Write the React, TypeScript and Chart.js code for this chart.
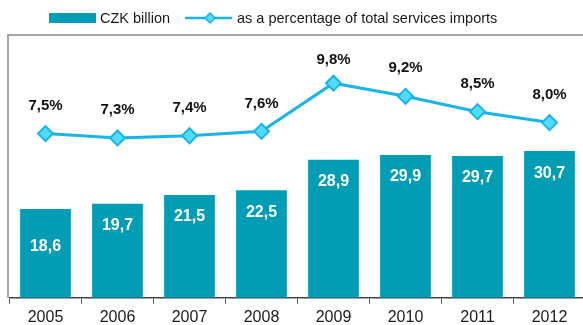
import React, { useEffect, useRef } from "react";
import { Chart, registerables } from "chart.js";

Chart.register(...registerables);

const years = ["2005", "2006", "2007", "2008", "2009", "2010", "2011", "2012"];
const czkBillion = [18.6, 19.7, 21.5, 22.5, 28.9, 29.9, 29.7, 30.7];
const shareOfImports = [7.5, 7.3, 7.4, 7.6, 9.8, 9.2, 8.5, 8.0];
const barLegend = "CZK billion";
const lineLegend = "as a percentage of total services imports";

const TEAL = "#009db5";
const LINE = "#1ab4e8";
const DIAMOND = "#4fdcff";
const FONT = "'Liberation Sans', Arial, sans-serif";

const fmt = (v: number) => v.toFixed(1).replace(".", ",");

const overlay = {
  id: "overlay",
  afterDraw(chart: any) {
    const ctx = chart.ctx as CanvasRenderingContext2D;
    const area = chart.chartArea;
    ctx.save();
    // frame
    ctx.strokeStyle = "#a6a6a6";
    ctx.lineWidth = 2;
    ctx.beginPath();
    ctx.moveTo(8, area.bottom);
    ctx.lineTo(8, 35);
    ctx.lineTo(chart.width, 35);
    ctx.stroke();

    // bar labels
    const barMeta = chart.getDatasetMeta(0);
    ctx.fillStyle = "#ffffff";
    ctx.font = `bold 16px ${FONT}`;
    ctx.textAlign = "center";
    ctx.textBaseline = "middle";
    barMeta.data.forEach((el: any, i: number) => {
      const off = i === 0 ? 38 : 22;
      ctx.fillText(fmt(czkBillion[i]), el.x, el.y + off);
    });

    // line labels
    const lineMeta = chart.getDatasetMeta(1);
    ctx.fillStyle = "#111111";
    ctx.font = `bold 15px ${FONT}`;
    lineMeta.data.forEach((el: any, i: number) => {
      const y = Math.max(el.y - 28, area.top + 25);
      ctx.fillText(fmt(shareOfImports[i]) + "%", el.x, y);
    });

    // legend
    ctx.fillStyle = TEAL;
    ctx.fillRect(49, 13, 47, 10);
    ctx.fillStyle = "#1a1a1a";
    ctx.font = `14.5px ${FONT}`;
    ctx.textAlign = "left";
    ctx.fillText(barLegend, 100, 18.5);
    ctx.strokeStyle = LINE;
    ctx.lineWidth = 2.5;
    ctx.beginPath();
    ctx.moveTo(185, 18);
    ctx.lineTo(232, 18);
    ctx.stroke();
    ctx.fillStyle = DIAMOND;
    ctx.lineWidth = 1.5;
    ctx.beginPath();
    ctx.moveTo(210 - 5, 18);
    ctx.lineTo(210, 13);
    ctx.lineTo(215, 18);
    ctx.lineTo(210, 23);
    ctx.closePath();
    ctx.fill();
    ctx.stroke();
    ctx.fillStyle = "#1a1a1a";
    ctx.fillText(lineLegend, 237, 18.5);
    ctx.restore();
  },
};

export default function App() {
  const ref = useRef<HTMLCanvasElement | null>(null);
  useEffect(() => {
    if (!ref.current) return;
    const chart = new Chart(ref.current, {
      type: "bar",
      data: {
        labels: years,
        datasets: [
          {
            type: "bar",
            label: barLegend,
            data: czkBillion,
            backgroundColor: TEAL,
            borderWidth: 0,
            barPercentage: 0.705,
            categoryPercentage: 1,
            yAxisID: "y",
            order: 2,
          },
          {
            type: "line",
            label: lineLegend,
            data: shareOfImports,
            borderColor: LINE,
            borderWidth: 3,
            backgroundColor: DIAMOND,
            pointStyle: "rectRot",
            pointRadius: 7.5,
            pointBorderWidth: 2,
            pointBorderColor: LINE,
            pointBackgroundColor: DIAMOND,
            tension: 0,
            yAxisID: "y1",
            order: 1,
          } as any,
        ],
      },
      options: {
        responsive: false,
        animation: false,
        layout: { padding: { left: 7, right: 10.5, top: 35, bottom: 0 } },
        plugins: {
          legend: { display: false },
          tooltip: { enabled: false },
        },
        scales: {
          x: {
            offset: true,
            grid: {
              offset: true,
              drawOnChartArea: false,
              drawTicks: true,
              tickLength: 6,
              color: "#555555",
            },
            border: { display: true, color: "#444444", width: 1.5 },
            ticks: {
              color: "#1a1a1a",
              font: { family: FONT, size: 16 },
              padding: 4,
              maxRotation: 0,
            },
          },
          y: { display: false, min: 0, max: 55 },
          y1: { display: false, min: 0, max: 12, position: "right" },
        },
      },
      plugins: [overlay],
    });
    return () => chart.destroy();
  }, []);
  return (
    <div
      style={{
        position: "absolute",
        left: 0,
        top: 0,
        width: 583,
        height: 325,
        overflow: "hidden",
        background: "#ffffff",
      }}
    >
      <canvas ref={ref} width={596} height={331} style={{ display: "block" }} />
    </div>
  );
}
